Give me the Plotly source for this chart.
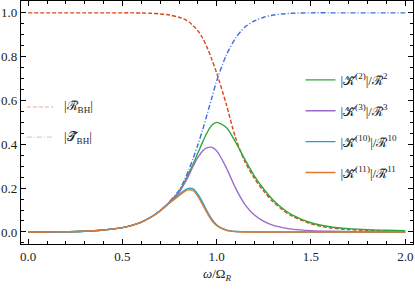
import plotly.graph_objects as go

# ---- data ----
omega = [0.0, 0.1, 0.2, 0.3, 0.4, 0.5, 0.55, 0.6, 0.65, 0.7, 0.75, 0.8, 0.825, 0.85, 0.875,
         0.9, 0.925, 0.95, 0.975, 1.0, 1.05, 1.1, 1.15, 1.2, 1.25, 1.3, 1.35, 1.4, 1.5,
         1.6, 1.7, 1.8, 1.9, 2.0]

R_BH = [1.0, 1.0, 1.0, 1.0, 1.0, 1.0, 1.0, 0.999, 0.998, 0.995, 0.99, 0.98, 0.972, 0.96, 0.942,
        0.918, 0.885, 0.84, 0.785, 0.725, 0.585, 0.43, 0.32, 0.245, 0.185, 0.137, 0.1, 0.072, 0.037,
        0.019, 0.011, 0.007, 0.005, 0.004]

T_BH = [0.0, 0.0, 0.001, 0.003, 0.009, 0.02, 0.03, 0.045, 0.067, 0.097, 0.138, 0.19, 0.23, 0.28, 0.335,
        0.398, 0.465, 0.54, 0.615, 0.69, 0.805, 0.885, 0.935, 0.963, 0.98, 0.99, 0.995, 0.998, 1.0,
        1.0, 1.0, 1.0, 1.0, 1.0]

K2 = [0.0, 0.0, 0.001, 0.003, 0.009, 0.02, 0.03, 0.045, 0.067, 0.097, 0.137, 0.185, 0.222, 0.265, 0.31,
      0.36, 0.41, 0.455, 0.488, 0.5, 0.478, 0.41, 0.33, 0.255, 0.195, 0.145, 0.107, 0.078, 0.042,
      0.024, 0.015, 0.01, 0.008, 0.006]

K3 = [0.0, 0.0, 0.001, 0.003, 0.009, 0.02, 0.03, 0.045, 0.067, 0.097, 0.136, 0.18, 0.215, 0.255, 0.3,
      0.34, 0.37, 0.385, 0.386, 0.37, 0.295, 0.2, 0.125, 0.077, 0.048, 0.03, 0.02, 0.013, 0.006,
      0.003, 0.002, 0.001, 0.001, 0.001]

K10 = [0.0, 0.0, 0.001, 0.003, 0.009, 0.02, 0.03, 0.045, 0.067, 0.097, 0.133, 0.17, 0.188, 0.199, 0.197,
       0.172, 0.135, 0.093, 0.057, 0.032, 0.009, 0.002, 0.001, 0.0, 0.0, 0.0, 0.0, 0.0, 0.0,
       0.0, 0.0, 0.0, 0.0, 0.0]

K11 = [0.0, 0.0, 0.001, 0.003, 0.009, 0.02, 0.03, 0.045, 0.067, 0.097, 0.132, 0.166, 0.182, 0.192, 0.188,
       0.162, 0.125, 0.085, 0.051, 0.028, 0.007, 0.002, 0.0, 0.0, 0.0, 0.0, 0.0, 0.0, 0.0,
       0.0, 0.0, 0.0, 0.0, 0.0]

x_tick_step = 0.5
y_tick_step = 0.2

names = {
    "R": "|ℛ\u0303<sub>BH</sub>|",
    "T": "|𝒯\u0303<sub>BH</sub>|",
    "K2": "|𝒦\u0303<sup>(2)</sup>|/ℛ\u0303<sup>2</sup>",
    "K3": "|𝒦\u0303<sup>(3)</sup>|/ℛ\u0303<sup>3</sup>",
    "K10": "|𝒦\u0303<sup>(10)</sup>|/ℛ\u0303<sup>10</sup>",
    "K11": "|𝒦\u0303<sup>(11)</sup>|/ℛ\u0303<sup>11</sup>",
}
colors = {"R": "#D9481C", "T": "#3B6FE0", "K2": "#2EA83A", "K3": "#9A6BCB",
          "K10": "#1AA3C9", "K11": "#E4782F"}
dashes = {"R": "4px,2px", "T": "5px,2px,1px,2px"}

FONT = "Liberation Serif"
fig = go.Figure()

def add(y, key, in_legend):
    fig.add_trace(go.Scatter(
        x=omega, y=y, mode="lines", name=names[key], showlegend=in_legend, legendgroup=key,
        line=dict(color=colors[key], width=1.4, dash=dashes.get(key, "solid"),
                  shape="spline", smoothing=0.8),
    ))

add(R_BH, "R", False)
add(T_BH, "T", False)
add(K2, "K2", True)
add(K3, "K3", True)
add(K10, "K10", True)
add(K11, "K11", True)

# left-hand key for the two black-hole curves (text + short line sample)
left_keys = [("R", 0.564), ("T", 0.44)]
annotations = []
shapes = []
for key, yy in left_keys:
    annotations.append(dict(text=names[key], xref="paper", yref="paper", x=0.105, y=yy,
                            xanchor="left", yanchor="middle", showarrow=False,
                            font=dict(family=FONT, size=13, color="#222222")))
    shapes.append(dict(type="line", xref="paper", yref="paper", x0=0.015, x1=0.082, y0=yy, y1=yy,
                       line=dict(color=colors[key], width=1.4, dash=dashes[key])))

fig.update_layout(
    template="simple_white",
    width=415, height=289,
    showlegend=True,
    margin=dict(l=21, r=2, t=1, b=45),
    plot_bgcolor="white", paper_bgcolor="white",
    font=dict(family=FONT, size=13, color="#222222"),
    legend=dict(x=0.713, y=0.737, xanchor="left", yanchor="top", bgcolor="rgba(0,0,0,0)",
                borderwidth=0, itemwidth=30, tracegroupgap=11, traceorder="grouped",
                font=dict(family=FONT, size=13, color="#222222")),
    annotations=annotations,
    shapes=shapes,
)

axis_common = dict(
    showline=True, linecolor="#000000", linewidth=1.2, mirror="allticks",
    ticks="inside", ticklen=5, tickwidth=1, tickcolor="#000000",
    showgrid=False, zeroline=False, tickformat=".1f", tickmode="linear", tick0=0,
    tickfont=dict(family=FONT, size=13, color="#222222"),
)

fig.update_xaxes(
    range=[-0.038, 2.041], dtick=x_tick_step,
    minor=dict(dtick=0.1, ticks="inside", ticklen=3, tickwidth=1, tickcolor="#000000"),
    title=dict(text="<i>ω</i>/Ω<sub><i>R</i></sub>", font=dict(family=FONT, size=13), standoff=6),
    **axis_common,
)
fig.update_yaxes(
    range=[-0.055, 1.054], dtick=y_tick_step,
    minor=dict(dtick=0.05, ticks="inside", ticklen=3, tickwidth=1, tickcolor="#000000"),
    **axis_common,
)

fig.write_html("out.html", config={"displayModeBar": False},
               post_script="document.body.style.margin='0';")
